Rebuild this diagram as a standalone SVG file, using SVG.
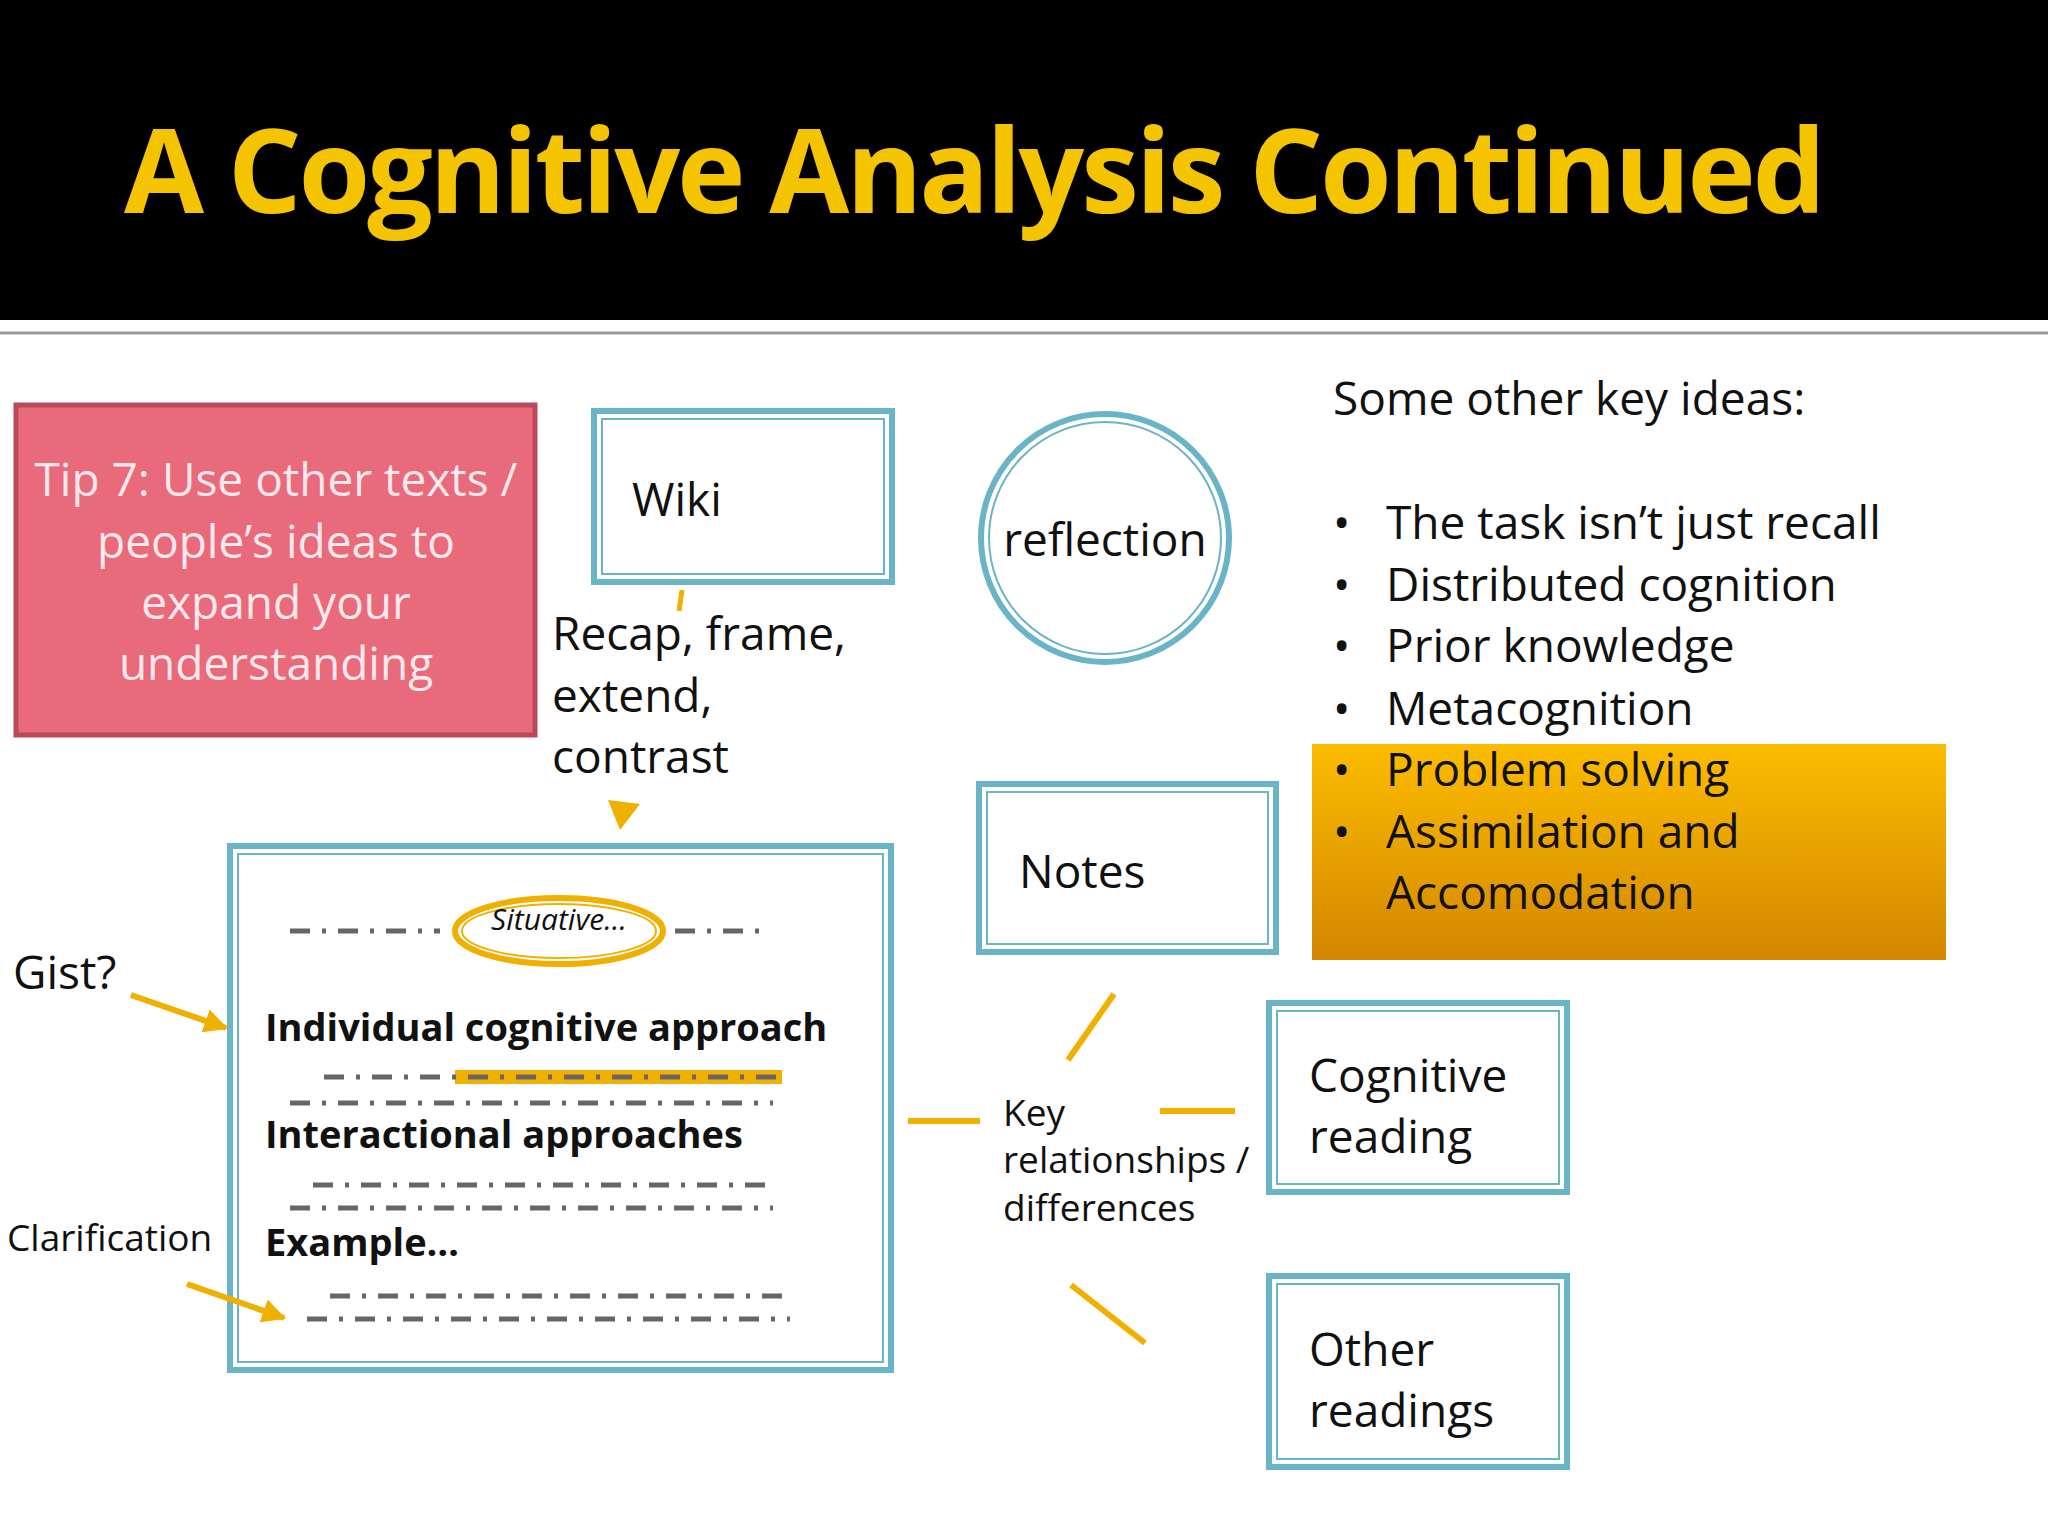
<svg xmlns="http://www.w3.org/2000/svg" width="2048" height="1536" viewBox="0 0 2048 1536">
<defs>
<linearGradient id="og" x1="0" y1="0" x2="0" y2="1"><stop offset="0" stop-color="#fcbc00"/><stop offset="1" stop-color="#d38700"/></linearGradient>
<marker id="ah" viewBox="0 0 10 10" refX="9" refY="5" markerWidth="4" markerHeight="4" orient="auto"><path d="M0,0L10,5L0,10z" fill="#f0b000"/></marker>
</defs>
<style>
text{font-family:"Open Sans","Noto Sans",sans-serif;fill:#111}
.b{font-size:46px}
.s{font-size:37px}
.bold{font-size:38px;font-weight:bold}
.box{fill:#fff;stroke:#6ab4c8;stroke-width:6}
.inner{fill:none;stroke:#6ab4c8;stroke-width:2}
.y{stroke:#f0b000;stroke-width:6;fill:none}
.d{stroke:#666;stroke-width:5;stroke-dasharray:20 12 4 12;fill:none}
</style>
<rect width="2048" height="1536" fill="#fff"/>
<rect width="2048" height="320" fill="#000"/>
<line x1="0" y1="333" x2="2048" y2="333" stroke="#999" stroke-width="3"/>
<text x="124" y="213" font-size="116" font-weight="bold" style="fill:#f5c400" textLength="1702">A Cognitive Analysis Continued</text>

<g id="tip">
<rect x="16" y="405" width="519" height="330" fill="#e96a7a" stroke="#b84a5a" stroke-width="5"/>
<g text-anchor="middle" class="b"><text x="276" y="496" style="fill:#fde8ec" class="b">Tip 7: Use other texts /</text><text x="276" y="558" style="fill:#fde8ec" class="b">people’s ideas to</text><text x="276" y="619" style="fill:#fde8ec" class="b">expand your</text><text x="276" y="680" style="fill:#fde8ec" class="b">understanding</text></g>
</g>
<g id="wiki"><rect class="box" x="594" y="411" width="298" height="171"/><rect class="inner" x="602" y="419" width="282" height="155"/><text class="b" x="632" y="516">Wiki</text></g>
<g id="recap"><text class="b" x="552" y="650">Recap, frame,</text><text class="b" x="552" y="712">extend,</text><text class="b" x="552" y="773">contrast</text></g>
<g id="reflection"><circle cx="1105" cy="538" r="124" fill="#fff" stroke="#6ab4c8" stroke-width="6"/><circle cx="1105" cy="538" r="116" fill="none" stroke="#6ab4c8" stroke-width="2"/><text class="b" x="1105" y="556" text-anchor="middle">reflection</text></g>
<g id="ideas">
<rect x="1312" y="744" width="634" height="216" fill="url(#og)"/>
<text class="b" x="1333" y="415">Some other key ideas:</text>
<g class="b">
<text class="b" x="1333" y="539">•</text><text class="b" x="1386" y="539">The task isn’t just recall</text>
<text class="b" x="1333" y="601">•</text><text class="b" x="1386" y="601">Distributed cognition</text>
<text class="b" x="1333" y="662">•</text><text class="b" x="1386" y="662">Prior knowledge</text>
<text class="b" x="1333" y="725">•</text><text class="b" x="1386" y="725">Metacognition</text>
<text class="b" x="1333" y="786">•</text><text class="b" x="1386" y="786">Problem solving</text>
<text class="b" x="1333" y="848">•</text><text class="b" x="1386" y="848">Assimilation and</text>
<text class="b" x="1386" y="909">Accomodation</text>
</g>
</g>
<g id="notes"><rect class="box" x="979" y="784" width="297" height="168"/><rect class="inner" x="987" y="792" width="281" height="152"/><text class="b" x="1019" y="888">Notes</text></g>
<g id="cog"><rect class="box" x="1269" y="1003" width="298" height="189"/><rect class="inner" x="1277" y="1011" width="282" height="173"/><text class="b" x="1309" y="1092">Cognitive</text><text class="b" x="1309" y="1153">reading</text></g>
<g id="other"><rect class="box" x="1269" y="1276" width="298" height="191"/><rect class="inner" x="1277" y="1284" width="282" height="175"/><text class="b" x="1309" y="1366">Other</text><text class="b" x="1309" y="1427">readings</text></g>
<g id="key"><text class="s" x="1003" y="1126">Key</text><text class="s" x="1003" y="1173">relationships /</text><text class="s" x="1003" y="1221">differences</text></g>
<g id="main">
<rect class="box" x="230" y="846" width="661" height="524"/><rect class="inner" x="238" y="854" width="645" height="508"/>
<ellipse cx="559" cy="931" rx="104" ry="33" fill="none" stroke="#f0b000" stroke-width="6"/>
<ellipse cx="559" cy="931" rx="97" ry="27" fill="none" stroke="#f0b000" stroke-width="2"/>
<text x="559" y="930" text-anchor="middle" font-size="30" font-style="italic">Situative…</text>
<path class="d" d="M290,931H440M675,931H762"/>
<text class="bold" x="265" y="1041">Individual cognitive approach</text>
<line x1="455" y1="1077" x2="782" y2="1077" stroke="#f0b000" stroke-width="14"/>
<path class="d" d="M324,1077H786M290,1103H773"/>
<text class="bold" x="265" y="1148">Interactional approaches</text>
<path class="d" d="M313,1185H775M290,1208H773"/>
<text class="bold" x="265" y="1256">Example…</text>
<path class="d" d="M330,1296H790M307,1319H790"/>
</g>
<g id="side"><text class="b" x="13" y="989">Gist?</text><text class="s" x="7" y="1251">Clarification</text></g>
<g id="connectors">
<line class="y" x1="131" y1="995" x2="226" y2="1028" marker-end="url(#ah)"/>
<line class="y" x1="187" y1="1284" x2="284" y2="1318" marker-end="url(#ah)"/>
<line x1="682" y1="590" x2="679" y2="611" stroke="#f0b000" stroke-width="5"/>
<path d="M608,800L640,804L620,830z" fill="#f0b000"/>
<line class="y" x1="908" y1="1121" x2="980" y2="1121"/>
<line class="y" x1="1160" y1="1111" x2="1235" y2="1111"/>
<line class="y" x1="1068" y1="1060" x2="1114" y2="994"/>
<line class="y" x1="1071" y1="1285" x2="1145" y2="1343"/>
</g>
</svg>
